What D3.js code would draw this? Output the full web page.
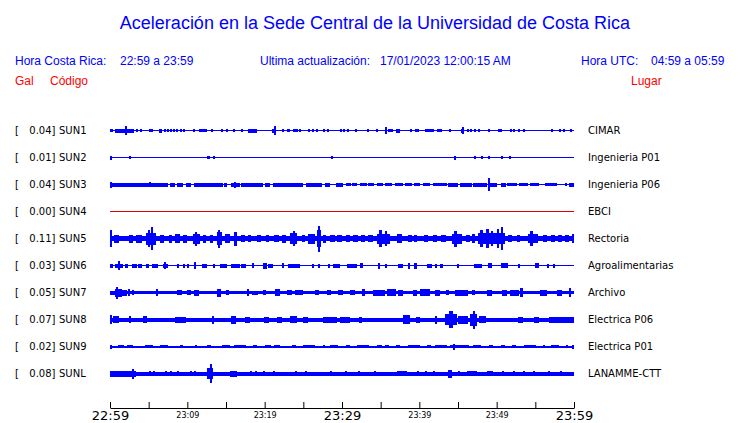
<!DOCTYPE html>
<html><head><meta charset="utf-8">
<script src="https://cdn.jsdelivr.net/npm/d3@7"></script>
<style>body{margin:0;background:#fff}svg{display:block}</style>
</head><body>
<script>
// ---------- data ----------
const codes  = ["SUN1","SUN2","SUN3","SUN4","SUN5","SUN6","SUN7","SUN8","SUN9","SUNL"];
const galValues = [0.04,0.01,0.04,0.00,0.11,0.03,0.05,0.07,0.02,0.08];
const places = ["CIMAR","Ingenieria P01","Ingenieria P06","EBCI","Rectoria","Agroalimentarias","Archivo","Electrica P06","Electrica P01","LANAMME-CTT"];
// continuous noise band half-height (px) per station
const bandHalf = [0,0,0,0,2,0,1,1.5,0.5,1.5];
const tickMinutes = [0,5,10,15,20,25,30,35,40,45,50,55,60];
const tickLabels  = ["22:59","","23:09","","23:19","","23:29","","23:39","","23:49","","23:59"];
const majorLabels = ["22:59","23:29","23:59"];
// bursts: [startMinute, endMinute, halfAmplitude]
const sun1 = [[0,0.35,1],[0.7,3.2,1.5],[1.95,2.15,4],[3.4,3.65,1],[3.9,4.15,1],[5.0,5.5,1],[6.4,6.8,1.5],[7.0,7.25,1],[7.4,7.65,1],[7.8,8.05,1],[8.2,8.45,1],[8.5,8.75,1],[9.0,9.25,1],[9.5,9.75,1],[10.7,10.95,1],[11.5,12.5,1],[13.0,13.25,1],[14.4,14.65,1],[15.0,15.3,1],[15.9,16.15,1],[17.0,17.25,1],[17.9,19.0,1.5],[21.0,21.4,1.5],[21.15,21.35,4],[22.3,22.55,1],[22.9,23.3,1],[23.6,24.2,1],[24.5,24.75,1],[25.6,25.85,1],[26.1,26.35,1],[26.6,26.85,1],[27.5,27.75,1],[28.0,28.25,1],[29.7,30.0,1],[30.1,30.35,1],[30.6,30.9,1],[31.7,31.95,1],[33.2,33.5,1],[34.4,34.65,1],[35.6,35.8,3],[35.9,36.5,1],[37.0,37.5,1.5],[38.8,39.1,1],[39.4,39.65,1],[39.7,39.95,1],[40.7,41.8,1],[42.3,42.9,1],[43.8,44.05,1],[45.4,45.7,1.5],[45.5,45.7,3],[46.2,46.45,1],[46.6,46.85,1],[47.1,47.35,1],[47.6,47.85,1],[48.9,49.15,1],[50.2,50.7,1],[51.7,51.95,1],[52.1,52.35,1],[52.8,53.05,1],[53.4,53.65,1],[57.0,57.25,1],[58.0,58.25,1],[58.6,58.85,1],[59.5,59.75,1]];
const sun2 = [[0,0.12,1.5],[2.5,2.75,1],[12.5,12.9,1],[13.3,13.55,1],[28.6,28.85,1],[44.5,44.75,1.5],[47.1,47.4,1],[48.0,48.25,1],[48.9,49.15,1],[50.6,50.85,1],[51.6,51.85,1]];
const sun3 = [[0,7.5,1.5],[0,0.15,2.5],[5.0,5.2,2],[7.7,8.3,1.5],[8.6,9.4,1.5],[9.8,10.4,1.5],[10.8,14.6,1.5],[14.8,15.2,1.5],[15.6,16.8,1.5],[16.0,16.2,2.5],[16.9,19.8,1.5],[20.1,20.7,1.5],[21.1,25.0,1.5],[25.3,27.4,1.5],[27.8,28.4,1.5],[29.2,30.1,1.5],[30.5,31.1,1],[31.3,32.0,1],[32.3,33.2,1],[33.4,34.2,1],[34.5,35.3,1],[35.6,36.5,1],[36.8,37.8,1],[38.1,39.0,1],[39.3,40.1,1],[40.5,41.4,1],[41.8,43.6,1],[43.7,45.0,1.5],[45.3,46.8,1.5],[47.0,48.8,1.5],[48.85,49.05,6],[49.2,50.1,1.5],[50.5,51.1,1.5],[51.3,52.6,1],[52.9,54.0,1],[54.3,55.4,1],[56.3,57.8,1],[58.9,59.2,1],[59.4,60,1.5]];
const sun4 = [];
const sun5 = [[0,0.15,8],[0.5,1.2,3.5],[2.5,3.0,3.5],[3.4,4.2,3.5],[4.7,6.0,5.5],[5.3,5.5,11],[4.9,5.1,8],[6.5,7.0,3.5],[7.6,8.0,3.5],[8.4,9.0,4],[9.5,10.0,3.5],[10.7,11.6,4.5],[11.0,11.2,6.5],[12.0,12.4,3.5],[12.9,13.3,3.5],[13.8,14.4,6],[14.0,14.2,8.5],[14.9,15.5,4],[16.0,16.4,6.5],[16.9,17.4,3],[17.9,18.3,3],[19.0,19.5,3],[20.2,20.6,3],[21.2,21.8,3],[22.2,22.7,3.5],[23.3,24.2,5],[23.6,23.8,7],[24.8,25.2,3],[25.6,26.5,4.5],[26.8,27.3,8],[26.95,27.15,12.3],[27.6,28.0,3.5],[28.4,29.0,3],[29.4,30.0,3],[30.5,31.0,3],[31.4,32.0,3],[32.5,33.0,3],[33.4,34.0,3],[34.5,36.2,4.5],[34.8,35.2,8],[35.5,35.7,7],[37.1,37.8,4],[38.5,39.0,3],[39.3,39.7,3],[40.6,41.1,3],[41.8,42.3,3],[42.8,43.4,3],[44.2,45.5,4.5],[44.5,44.9,7.5],[46.0,46.5,3],[46.8,47.2,4],[47.6,51.1,5],[47.8,48.2,8],[48.6,49.0,9],[49.3,49.6,7],[50.0,50.3,9],[50.6,50.8,11],[51.5,52.0,3],[52.6,53.0,3],[54.0,55.3,4],[54.3,54.7,7],[56.0,56.5,3],[57.0,57.5,3],[57.9,58.4,3],[58.8,59.3,3],[59.8,60,4]];
const sun6 = [[0,0.4,1.5],[0.6,1.6,1.5],[1.05,1.25,4],[1.9,2.3,1.5],[2.8,3.4,1.5],[3.6,4.1,1.5],[4.7,5.1,1.5],[5.4,6.2,1.5],[6.8,7.5,1.5],[6.95,7.15,3],[8.7,9.0,1.5],[9.4,9.65,1.5],[10.0,10.25,1.5],[10.9,11.2,3],[11.9,12.6,1.5],[13.3,13.5,1.5],[14.2,15.1,1.5],[15.7,16.8,1.5],[17.0,17.7,1.5],[18.3,18.6,2],[19.8,20.3,2.5],[20.4,21.1,1.5],[22.3,22.55,2],[23.0,24.5,1.5],[26.1,26.35,1.5],[26.9,27.15,1.5],[28.2,28.45,1.5],[28.8,29.7,1.5],[30.6,31.9,1.5],[32.3,32.7,2],[34.7,35.0,2.5],[35.6,35.9,1.5],[37.2,37.8,1.5],[38.5,38.8,2.5],[39.3,39.7,2.5],[41.0,41.7,1.5],[42.0,42.3,1.5],[42.7,43.1,1.5],[44.9,45.15,1.5],[47.1,48.1,1.5],[48.9,49.4,2],[50.5,51.4,2],[52.7,52.95,1.5],[55.0,55.5,2],[56.5,56.75,1.5],[57.3,57.55,1.5]];
const sun7 = [[0,0.6,1.5],[0.6,1.5,3.5],[0.75,0.95,5.5],[1.5,2.2,2.5],[2.3,2.5,3],[2.9,3.1,2],[6.0,6.3,3],[8.7,9.4,2],[10.0,10.5,2],[10.9,11.6,2.5],[13.8,14.3,3.5],[15.0,15.4,2],[17.7,18.0,3],[18.4,19.2,1.5],[19.8,20.2,2],[21.3,22.0,3],[22.9,23.5,2],[23.9,24.9,2],[26.5,27.0,2],[28.0,28.5,2],[29.5,30.2,2],[31.0,31.7,2],[32.6,33.0,3],[34.0,35.6,2.5],[35.8,36.9,3],[37.2,37.9,2.5],[39.2,39.7,2.5],[40.1,41.4,3],[42.0,42.7,2.5],[43.5,43.9,2],[44.6,46.3,2.5],[46.8,47.2,2],[48.8,49.5,2.5],[50.7,51.4,2.5],[51.7,52.8,2.5],[53.0,53.4,4],[55.6,56.5,2.5],[57.8,58.5,2.5],[59.4,59.6,4]];
const sun8 = [[0,0.15,4],[0.4,1.2,3],[2.5,2.8,3],[4.3,4.8,3],[8.4,9.8,2.5],[13.2,13.5,3.5],[15.7,16.4,3.5],[17.5,18.2,2.5],[19.9,20.6,2.5],[21.6,22.3,2.5],[23.3,24.2,3],[25.0,25.7,2.5],[27.5,29.3,2.5],[29.7,31.0,2.5],[32.2,32.6,2.5],[37.9,38.8,4],[39.6,40.1,2.5],[42.0,42.3,3.5],[43.3,44.9,5],[43.9,44.4,8],[45.0,46.3,3.5],[46.6,47.5,5.5],[46.9,47.1,8.5],[47.7,48.6,3],[52.7,53.4,2.5],[54.8,55.4,2.5],[56.8,60,2.5]];
const sun9 = [[0,0.3,1.5],[1.0,1.8,1],[2.2,3.0,1],[4.5,5.5,1],[6.5,7.5,1],[9.0,9.4,1],[11.0,11.3,1],[12.5,13.0,1],[14.5,15.5,1],[16.0,17.5,1],[18.5,19.0,1],[20.0,20.8,1],[21.2,22.0,1],[23.5,24.0,1],[25.0,26.5,1],[27.5,27.8,1],[28.5,29.5,1],[30.5,31.0,1],[32.0,33.5,1],[34.5,35.2,1],[35.5,36.0,1],[37.0,37.5,1],[38.5,40.0,1],[41.0,41.5,1],[42.0,43.5,1],[44.0,46.5,1],[44.4,44.6,2.5],[47.0,48.0,1],[49.0,49.5,1],[50.5,51.0,1],[52.0,52.5,1],[53.5,55.0,1],[56.0,56.3,1],[57.0,58.0,1],[59.0,59.3,1],[59.8,60,1.5]];
const sunL = [[0,3.4,2.5],[2.9,3.1,4.5],[5.1,5.3,2],[5.5,5.7,2],[7.1,7.3,2],[7.7,7.9,2],[8.7,8.9,2],[10.3,10.5,2],[10.9,11.2,2],[12.6,13.4,5],[12.95,13.2,9],[15.5,16.4,2.5],[18.1,18.3,2],[18.7,18.9,2],[19.8,20.0,2],[21.1,21.3,2],[23.9,24.1,2],[25.2,25.4,2],[28.4,28.6,2],[30.4,30.6,2],[32.1,32.3,2],[34.2,34.4,2],[37.1,38.4,2],[39.7,39.9,2],[40.7,40.9,2],[41.8,42.0,2],[43.7,44.2,3.5],[45.0,45.2,2],[46.2,47.5,2],[48.8,49.6,2],[50.7,50.9,2],[52.1,52.3,2],[53.4,53.6,2],[54.7,54.9,2],[56.7,56.9,2],[58.2,58.4,2]];
const bursts = [sun1,sun2,sun3,sun4,sun5,sun6,sun7,sun8,sun9,sunL];

// ---------- drawing ----------
const W = 740, H = 423;
const svg = d3.select("body").append("svg").attr("width", W).attr("height", H)
  .style("font-family", "'Liberation Sans', Arial, sans-serif");

const x = d3.scaleLinear().domain([0, 60]).range([110, 574]);
const y = d3.scalePoint().domain(codes).range([130, 373]);

// title & header
svg.append("text").attr("x", 375).attr("y", 29).attr("text-anchor", "middle")
  .attr("font-size", 18).attr("fill", "#0000ff")
  .text("Aceleración en la Sede Central de la Universidad de Costa Rica");
const header = [
  ["Hora Costa Rica:", 15], ["22:59 a 23:59", 120], ["Ultima actualización:", 260],
  ["17/01/2023 12:00:15 AM", 380], ["Hora UTC:", 581], ["04:59 a 05:59", 651]
];
svg.append("g").selectAll("text").data(header).join("text")
  .attr("x", d => d[1]).attr("y", 65).attr("font-size", 12).attr("fill", "#0000ff").text(d => d[0]);
const header2 = [["Gal", 15], ["Código", 50], ["Lugar", 631]];
svg.append("g").selectAll("text").data(header2).join("text")
  .attr("x", d => d[1]).attr("y", 85).attr("font-size", 12).attr("fill", "#ff0000").text(d => d[0]);

// station labels
const lab = svg.append("g").style("font-family", "'DejaVu Sans', sans-serif").attr("font-size", 10).attr("fill", "#000");
codes.forEach((c, i) => {
  const yc = y(c) + 4;
  lab.append("text").attr("x", 15).attr("y", yc).text("[");
  lab.append("text").attr("x", 55.5).attr("y", yc).attr("text-anchor", "end").text(galValues[i].toFixed(2) + "]");
  lab.append("text").attr("x", 59).attr("y", yc).text(c);
  lab.append("text").attr("x", 588).attr("y", yc).text(places[i]);
});

// traces (amplitudes snapped to half pixels)
const up = a => Math.floor(Math.round(a * 2) / 2);
const dn = a => Math.ceil(Math.round(a * 2) / 2);
const traces = svg.append("g").attr("shape-rendering", "crispEdges");
codes.forEach((c, i) => {
  const yc = y(c);
  const col = c === "SUN4" ? "#e00000" : "#0000ff";
  const g = traces.append("g").attr("fill", col);
  g.append("rect").attr("x", x(0)).attr("y", yc).attr("width", x(60) - x(0)).attr("height", 1);
  if (bandHalf[i] > 0) {
    const a = bandHalf[i];
    g.append("rect").attr("x", x(0)).attr("y", yc - up(a)).attr("width", x(60) - x(0)).attr("height", up(a) + dn(a) + 1);
  }
  g.selectAll("rect.b").data(bursts[i]).join("rect").attr("class", "b")
    .attr("x", d => Math.round(x(d[0])))
    .attr("width", d => Math.max(2, Math.round(x(d[1]) - x(d[0]))))
    .attr("y", d => yc - up(d[2]))
    .attr("height", d => up(d[2]) + dn(d[2]) + 1);
});

// time axis
const axis = d3.axisBottom(x).tickValues(tickMinutes)
  .tickFormat((d, i) => tickLabels[i]).tickSizeInner(-6).tickSizeOuter(0).tickPadding(0);
const ax = svg.append("g").attr("transform", "translate(0,408)").call(axis);
ax.select(".domain").attr("stroke", "#000");
ax.selectAll(".tick line").attr("stroke", "#000");
ax.selectAll(".tick text")
  .attr("dy", null)
  .style("font-family", "'DejaVu Sans', sans-serif")
  .attr("fill", "#000")
  .attr("font-size", (d, i) => majorLabels.includes(tickLabels[i]) ? 13 : 8)
  .attr("y", (d, i) => majorLabels.includes(tickLabels[i]) ? 11.5 : 10);
</script>
</body></html>
